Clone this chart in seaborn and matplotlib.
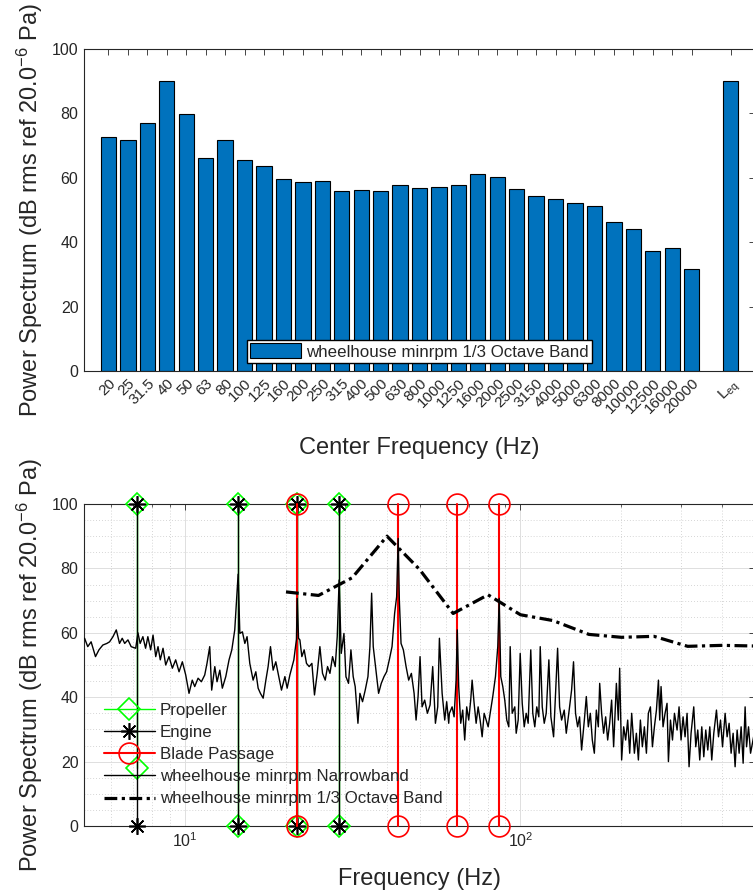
import numpy as np
import pandas as pd
import matplotlib
matplotlib.use("Agg")
import matplotlib.pyplot as plt
import seaborn as sns
from matplotlib.ticker import LogLocator, NullFormatter, MultipleLocator
from matplotlib.lines import Line2D

# ---- 1/3 octave band data -------------------------------------------------
band_labels = ["20", "25", "31.5", "40", "50", "63", "80", "100", "125", "160",
               "200", "250", "315", "400", "500", "630", "800", "1000", "1250",
               "1600", "2000", "2500", "3150", "4000", "5000", "6300", "8000",
               "10000", "12500", "16000", "20000"]
band_centers_hz = [20, 25, 31.5, 40, 50, 63, 80, 100, 125, 160, 200, 250, 315,
                   400, 500, 630, 800, 1000, 1250, 1600, 2000, 2500, 3150, 4000,
                   5000, 6300, 8000, 10000, 12500, 16000, 20000]
band_levels_db = [72.7, 71.6, 77.1, 90.0, 79.7, 66.0, 71.8, 65.6, 63.8, 59.5,
                  58.6, 58.9, 55.8, 56.1, 55.9, 57.8, 56.8, 57.0, 57.9, 61.1,
                  60.1, 56.5, 54.5, 53.3, 52.3, 51.1, 46.3, 44.0, 37.2, 38.3, 31.7]
leq_label = r"L$_\mathrm{eq}$"
leq_level_db = 90.0

# ---- harmonic markers -----------------------------------------------------
propeller_hz = [7.2, 14.4, 21.6, 28.8]
propeller_low_db = [17.9, 0.0, 0.0, 0.0]
engine_hz = [7.2, 14.4, 21.6, 28.8]
blade_hz = [21.6, 43.2, 64.8, 86.4]
stem_top_db = 100.0

# ---- narrowband spectrum --------------------------------------------------
nb_freq_hz = [
    5.02, 5.13, 5.25, 5.41, 5.54, 5.69, 5.85, 5.96, 6.10, 6.24, 6.38, 6.50, 6.61,
    6.76, 6.91, 7.13, 7.24, 7.35, 7.49, 7.63, 7.75, 7.90, 8.03, 8.18, 8.31, 8.44,
    8.60, 8.76, 8.96, 9.17, 9.38, 9.60, 9.82, 10.05, 10.28, 10.51, 10.69, 10.94,
    11.19, 11.45, 11.63, 11.85, 12.01, 12.27, 12.46, 12.70, 12.92, 13.23, 13.53,
    13.79, 14.07, 14.40, 14.57, 14.83, 15.08, 15.31, 15.60, 15.96, 16.26, 16.52,
    16.78, 17.10, 17.42, 17.69, 17.98, 18.31, 18.65, 18.99, 19.39, 19.85, 20.16,
    20.54, 21.11, 21.49, 21.60, 21.80, 22.00, 22.30, 22.66, 23.02, 23.45, 23.89,
    24.32, 24.78, 25.24, 25.70, 26.18, 26.60, 27.04, 27.53, 28.04, 28.43, 28.80,
    29.22, 29.77, 30.18, 30.72, 31.23, 31.72, 32.16, 32.77, 33.22, 33.82, 34.45,
    35.10, 35.58, 36.00, 36.40, 37.09, 37.76, 38.46, 39.19, 39.90, 40.64, 41.41,
    42.15, 42.74, 43.20, 43.54, 44.05, 44.76, 45.60, 46.42, 47.29, 48.18, 48.84,
    49.51, 50.19, 50.89, 51.81, 52.78, 53.77, 54.74, 55.77, 56.66, 57.32, 58.40,
    59.45, 60.26, 61.10, 61.39, 62.54, 63.40, 64.28, 64.80, 65.44, 66.35, 67.26,
    68.19, 69.13, 70.09, 71.06, 71.75, 72.74, 73.75, 74.77, 75.80, 76.86, 77.92,
    79.00, 80.10, 81.21, 82.67, 84.22, 85.56, 86.40, 87.34, 88.56, 89.77, 91.02,
    92.28, 93.17, 94.46, 96.16, 97.09, 98.43, 99.79, 101.2, 102.6, 104.0, 105.4,
    107.3, 108.8, 110.3, 111.8, 113.4, 114.5, 116.1, 117.7, 119.3, 121.5, 123.2,
    125.5, 127.2, 129.0, 130.8, 132.6, 135.0, 136.9, 139.3, 142.0, 143.9, 145.9,
    148.0, 150.0, 152.1, 155.0, 157.1, 159.3, 161.5, 163.7, 166.0, 168.3, 170.6,
    172.2, 174.5, 176.9, 179.4, 181.9, 184.4, 186.9, 189.5, 193.1, 195.7, 197.5,
    200.2, 203.0, 205.8, 208.7, 211.6, 214.5, 218.5, 221.5, 224.6, 227.7, 230.8,
    234.0, 237.3, 240.5, 243.9, 247.3, 250.7, 254.2, 257.7, 260.0, 262.4, 266.0,
    269.7, 273.4, 276.0, 279.9, 283.8, 287.7, 292.9, 296.9, 301.0, 305.2, 309.4,
    313.7, 318.0, 322.4, 328.4, 333.0, 337.6, 342.2, 347.0, 351.8, 356.6, 361.6,
    366.6, 371.6, 376.8, 383.8, 389.2, 394.6, 400.1, 407.3, 412.9, 418.6, 424.4,
    430.3, 436.2, 442.3, 448.4, 454.6, 460.9, 467.2, 471.8, 478.3, 485.0, 500.0]
nb_level_db = [
    58.3, 55.7, 57.2, 52.6, 54.7, 56.2, 56.7, 57.2, 58.8, 60.9, 56.7, 58.3, 56.7,
    57.8, 55.7, 55.2, 60.0, 56.7, 58.8, 55.2, 58.8, 54.7, 59.3, 52.6, 55.7, 51.6,
    55.2, 50.0, 52.6, 49.0, 51.6, 47.9, 51.0, 46.9, 41.2, 45.3, 43.3, 45.9,
    44.8, 46.9, 50.5, 55.7, 42.2, 49.5, 44.8, 48.4, 42.8, 46.4, 51.6,
    54.7, 60.9, 78.2, 59.8, 60.3, 56.7, 58.8, 50.5, 45.3, 47.9, 42.8,
    41.2, 39.7, 45.3, 49.5, 55.7, 48.4, 51.0, 46.9, 42.2, 46.4, 42.8,
    46.9, 51.6, 58.0, 70.7, 58.3, 57.8, 52.6, 54.7, 50.5, 49.5, 50.5,
    40.7, 47.4, 55.7, 47.4, 45.3, 49.5, 47.4, 52.6, 49.5, 58.8, 76.4,
    53.6, 59.8, 46.4, 44.3, 54.7, 46.4, 43.3, 31.9, 41.2, 38.6, 42.2,
    46.4, 55.7, 72.3, 55.7, 48.4, 41.2, 44.3, 46.4, 47.9, 51.6, 55.7,
    66.0, 71.2, 89.3, 70.2, 56.7, 54.7, 49.5, 45.3, 47.4, 41.2, 32.9,
    40.2, 52.6, 37.0, 39.1, 35.0, 37.6, 49.5, 31.9, 37.0, 58.3, 41.2,
    32.9, 38.6, 31.9, 35.0, 37.0, 33.9, 45.3, 60.9, 43.3, 31.9, 36.0,
    26.7, 37.0, 32.9, 39.1, 45.3, 38.1, 31.9, 37.0, 32.9, 27.7, 35.0,
    32.9, 30.8, 35.0, 40.2, 46.4, 55.7, 70.7, 46.4, 43.3, 39.1, 32.9,
    30.8, 55.7, 35.0, 37.0, 28.8, 32.9, 53.6, 38.1, 30.8, 35.0, 31.9,
    54.7, 35.0, 30.8, 37.0, 33.9, 55.7, 37.0, 31.9, 35.0, 51.6, 33.9,
    27.7, 41.2, 55.2, 37.0, 32.9, 36.0, 28.8, 35.0, 42.2, 51.0, 35.0,
    30.8, 33.9, 23.6, 32.9, 40.2, 30.8, 35.0, 26.7, 22.6, 36.0, 30.8,
    44.3, 35.0, 28.8, 33.9, 26.7, 31.9, 39.1, 24.6, 44.3, 32.9, 49.0,
    20.5, 30.8, 26.7, 32.9, 22.6, 35.0, 22.6, 28.8, 20.5, 32.9, 24.6,
    30.8, 22.6, 35.0, 37.0, 24.6, 30.8, 36.0, 45.3, 32.9, 43.3, 30.8,
    35.0, 38.1, 20.0, 32.9, 26.7, 35.0, 29.8, 37.0, 26.7, 33.9, 27.7,
    35.0, 18.4, 28.8, 37.0, 24.6, 29.8, 20.5, 30.8, 21.5, 29.8, 23.6,
    30.8, 20.5, 28.8, 36.0, 27.7, 32.9, 24.6, 35.0, 27.7, 31.9, 22.6,
    28.8, 18.4, 29.8, 22.6, 30.8, 19.5, 37.0, 24.6, 30.8, 22.6, 30.0]

BAR_BLUE = "#0072BD"
GREEN = "#00FF00"
RED = "#FF0000"

sns.set_theme(style="white")
plt.rcParams["font.family"] = ["Liberation Sans", "DejaVu Sans"]
plt.rcParams["mathtext.fontset"] = "custom"
plt.rcParams["mathtext.rm"] = "Liberation Sans"
plt.rcParams["mathtext.it"] = "Liberation Sans:italic"
plt.rcParams["mathtext.bf"] = "Liberation Sans:bold"
plt.rcParams["axes.edgecolor"] = "#262626"
plt.rcParams["axes.linewidth"] = 0.8

TICK_FS = 11.5
XTICK_TOP_FS = 11
LABEL_FS = 17
LEGEND_FS = 12.2
YLABEL = r"Power Spectrum (dB rms ref 20.0$^{-6}$ Pa)"

fig = plt.figure(figsize=(7.53, 8.92), dpi=100)
ax_top = fig.add_axes([84 / 753, 1 - 371 / 892, 671 / 753, 322 / 892])
ax_bot = fig.add_axes([84 / 753, 1 - 826 / 892, 671 / 753, 322 / 892])

# ---- top: 1/3 octave band bar chart ---------------------------------------
gap_label = " "
order = band_labels + [gap_label, leq_label]
bar_df = pd.DataFrame({"band": band_labels + [leq_label],
                       "level": band_levels_db + [leq_level_db]})
sns.barplot(data=bar_df, x="band", y="level", order=order, color=BAR_BLUE,
            saturation=1, edgecolor="black", linewidth=0.8, width=0.79,
            errorbar=None, ax=ax_top, label="wheelhouse minrpm 1/3 Octave Band")
ax_top.set_xlim(-1.26, len(order) - 1 + 1.26)
ax_top.set_ylim(0, 100)
ax_top.yaxis.set_major_locator(MultipleLocator(20))
tick_pos = list(range(len(band_labels))) + [len(order) - 1]
ax_top.set_xticks(tick_pos)
ax_top.set_xticklabels(band_labels + [leq_label], rotation=45, ha="right",
                       rotation_mode="anchor", fontsize=XTICK_TOP_FS)
ax_top.tick_params(axis="both", direction="in", length=4, width=0.6,
                   top=True, right=True, labelsize=TICK_FS, pad=4)
ax_top.tick_params(axis="x", labelsize=XTICK_TOP_FS, pad=4)
ax_top.set_xlabel("Center Frequency (Hz)", fontsize=LABEL_FS, labelpad=15)
ax_top.set_ylabel(YLABEL, fontsize=LABEL_FS, labelpad=5)
ax_top.legend(loc="lower center", bbox_to_anchor=(0.5, 0.025), borderaxespad=0,
              fontsize=LEGEND_FS, frameon=True, fancybox=False, framealpha=1,
              edgecolor="black", handlelength=3.0, handleheight=1.0,
              handletextpad=0.3, borderpad=0.2)

# ---- bottom: narrowband spectrum with harmonic markers --------------------
ax_bot.set_xscale("log")
ax_bot.set_xlim(5, 500)
ax_bot.set_ylim(0, 100)

for i, (f, lo) in enumerate(zip(propeller_hz, propeller_low_db)):
    ax_bot.plot([f, f], [lo, stem_top_db], color=GREEN, lw=1.0, marker="D",
                ms=11, mfc="none", mec=GREEN, mew=1.2,
                label="Propeller" if i == 0 else None, clip_on=False, zorder=3)
for i, f in enumerate(engine_hz):
    ax_bot.plot([f, f], [0, stem_top_db], color="black", lw=1.0,
                marker=(8, 2, 0), ms=12, mec="black", mew=1.2,
                label="Engine" if i == 0 else None, clip_on=False, zorder=3.1)
for i, f in enumerate(blade_hz):
    ax_bot.plot([f, f], [0, stem_top_db], color=RED, lw=1.5, marker="o",
                ms=15, mfc="none", mec=RED, mew=1.2,
                label="Blade Passage" if i == 0 else None, clip_on=False, zorder=3.2)

sns.lineplot(x=nb_freq_hz, y=nb_level_db, color="black", lw=1.0, ax=ax_bot,
             estimator=None, sort=False, errorbar=None,
             label="wheelhouse minrpm Narrowband", zorder=4)
oct_f = [f for f in band_centers_hz if f <= 500]
oct_l = band_levels_db[:len(oct_f)]
sns.lineplot(x=oct_f, y=oct_l, color="black", lw=2.3, ax=ax_bot,
             estimator=None, sort=False, errorbar=None,
             label="wheelhouse minrpm 1/3 Octave Band", zorder=5)
ax_bot.lines[-1].set_dashes((4.0, 1.4, 1.0, 1.4))

ax_bot.xaxis.set_major_locator(LogLocator(base=10, numticks=10))
ax_bot.xaxis.set_minor_locator(LogLocator(base=10, subs=np.arange(2, 10), numticks=20))
ax_bot.xaxis.set_minor_formatter(NullFormatter())
ax_bot.yaxis.set_major_locator(MultipleLocator(20))
ax_bot.yaxis.set_minor_locator(MultipleLocator(5))
ax_bot.grid(which="major", color="#dedede", lw=0.7, ls="-")
ax_bot.grid(which="minor", color="#c8c8c8", lw=0.6, ls=(0, (1, 2.5)))
ax_bot.set_axisbelow(True)
ax_bot.tick_params(axis="both", which="major", direction="in", length=4,
                   width=0.6, top=True, right=True, labelsize=TICK_FS, pad=4)
ax_bot.tick_params(axis="both", which="minor", direction="in", length=2.5,
                   width=0.5, top=True, right=True)
ax_bot.tick_params(axis="y", which="minor", length=0)
ax_bot.set_xlabel("Frequency (Hz)", fontsize=LABEL_FS, labelpad=13)
ax_bot.set_ylabel(YLABEL, fontsize=LABEL_FS, labelpad=5)

leg = ax_bot.legend(loc="upper left", bbox_to_anchor=(0.0298, 0.382),
                    borderaxespad=0, borderpad=0, frameon=False,
                    fontsize=LEGEND_FS, handlelength=3.0, handletextpad=0.3,
                    labelspacing=0.42)
for h in leg.legend_handles:
    if isinstance(h, Line2D):
        h.set_clip_on(False)

for ax in (ax_top, ax_bot):
    for sp in ax.spines.values():
        sp.set_visible(True)

fig.savefig("out.png", dpi=100)
